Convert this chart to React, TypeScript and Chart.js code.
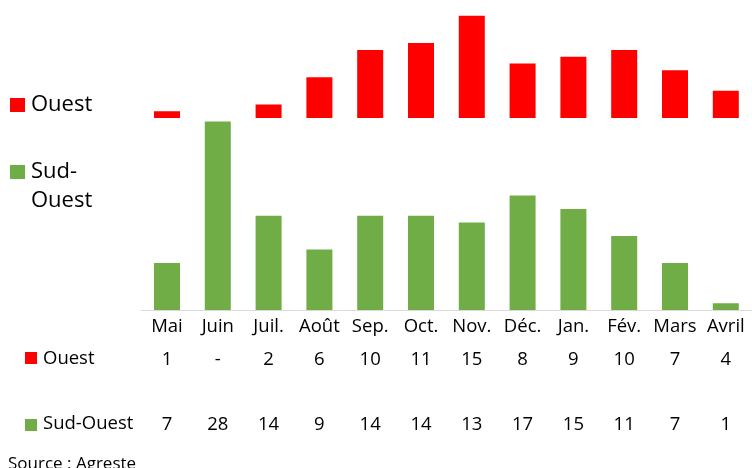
import React, { useEffect, useRef } from 'react';
import { Chart, registerables } from 'chart.js';

Chart.register(...registerables);

const months = ['Mai', 'Juin', 'Juil.', 'Août', 'Sep.', 'Oct.', 'Nov.', 'Déc.', 'Jan.', 'Fév.', 'Mars', 'Avril'];
const ouest: (number | null)[] = [1, null, 2, 6, 10, 11, 15, 8, 9, 10, 7, 4];
const sudOuest: number[] = [7, 28, 14, 9, 14, 14, 13, 17, 15, 11, 7, 1];
const seriesNames = ['Ouest', 'Sud-Ouest'];
const sourceText = 'Source : Agreste';

const RED = '#FF0000';
const GREEN = '#70AD47';
const FONT = "'Open Sans', 'Noto Sans', sans-serif";

const sidePlugin = {
  id: 'sideLegend',
  afterDraw(chart: any) {
    const ctx = chart.ctx as CanvasRenderingContext2D;
    ctx.save();
    ctx.textBaseline = 'middle';
    ctx.textAlign = 'left';
    // upper legend
    ctx.font = `22px ${FONT}`;
    ctx.fillStyle = RED;
    ctx.fillRect(10, 98, 15, 14);
    ctx.fillStyle = GREEN;
    ctx.fillRect(10, 165, 15, 14);
    ctx.fillStyle = '#000';
    ctx.fillText(seriesNames[0], 31, 105);
    ctx.fillText('Sud-', 31, 172);
    ctx.fillText('Ouest', 31, 201);
    // table legend
    ctx.font = `18.5px ${FONT}`;
    ctx.fillStyle = RED;
    ctx.fillRect(25, 352, 12, 12);
    ctx.fillStyle = GREEN;
    ctx.fillRect(25, 419, 12, 12);
    ctx.fillStyle = '#000';
    ctx.fillText(seriesNames[0], 43, 359);
    ctx.fillText(seriesNames[1], 43, 424);
    // source
    ctx.font = `17px ${FONT}`;
    ctx.textBaseline = 'alphabetic';
    ctx.fillText(sourceText, 8, 469);
    ctx.restore();
  },
};

export default function App() {
  const ref = useRef<HTMLCanvasElement>(null);
  useEffect(() => {
    if (!ref.current) return;
    const labels = months.map((m, i) => [
      m,
      ouest[i] == null ? '-' : String(ouest[i]),
      '',
      String(sudOuest[i]),
    ]);
    const chart = new Chart(ref.current, {
      type: 'bar',
      data: {
        labels,
        datasets: [
          {
            label: seriesNames[0],
            data: ouest,
            backgroundColor: RED,
            yAxisID: 'yO',
            grouped: false,
            categoryPercentage: 1,
            barPercentage: 0.512,
          } as any,
          {
            label: seriesNames[1],
            data: sudOuest,
            backgroundColor: GREEN,
            yAxisID: 'yS',
            grouped: false,
            categoryPercentage: 1,
            barPercentage: 0.512,
          } as any,
        ],
      },
      options: {
        animation: false,
        responsive: false,
        maintainAspectRatio: false,
        layout: { padding: { left: 141.6, right: 0.8, top: 9, bottom: 26.5 } },
        plugins: { legend: { display: false }, tooltip: { enabled: false } },
        scales: {
          x: {
            grid: { display: false, drawTicks: false },
            border: { display: true, color: '#D9D9D9', width: 1 },
            ticks: {
              autoSkip: false,
              maxRotation: 0,
              minRotation: 0,
              padding: 1,
              color: '#000',
              font: { family: FONT, size: 18.5, lineHeight: 1.75 },
            },
          },
          yS: {
            type: 'linear',
            position: 'left',
            stack: 'v',
            stackWeight: 192,
            min: 0,
            max: 28.53,
            display: false,
            ticks: { display: false },
            grid: { display: false },
          },
          yO: {
            type: 'linear',
            position: 'left',
            stack: 'v',
            stackWeight: 109,
            min: 0,
            max: 16,
            display: false,
            ticks: { display: false },
            grid: { display: false },
          },
        },
      },
      plugins: [sidePlugin],
    });
    return () => chart.destroy();
  }, []);
  return (
    <div style={{ position: 'fixed', left: 0, top: 0, width: 752, height: 468 }}>
      <canvas ref={ref} width={752} height={468} style={{ width: 752, height: 468 }} />
    </div>
  );
}
